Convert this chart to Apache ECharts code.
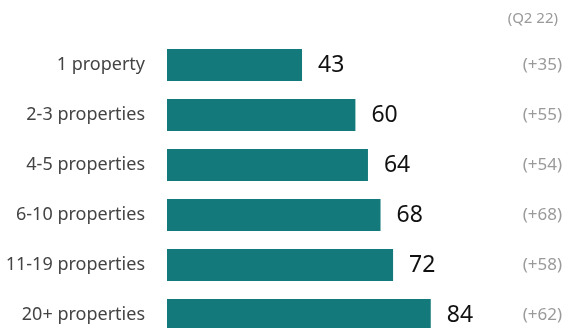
<!DOCTYPE html>
<html>
<head>
<meta charset="utf-8">
<script src="https://cdn.jsdelivr.net/npm/echarts@6/dist/echarts.min.js"></script>
<style>
html,body{margin:0;padding:0;background:#fff;}
#chart{width:570px;height:328px;}
</style>
</head>
<body>
<div id="chart"></div>
<script>
var mychart = echarts.init(document.getElementById('chart'));

// rows from top to bottom
const categories = ['1 property', '2-3 properties', '4-5 properties', '6-10 properties', '11-19 properties', '20+ properties'];
const values = [43, 60, 64, 68, 72, 84];
const changes = ['(+35)', '(+55)', '(+54)', '(+68)', '(+58)', '(+62)'];
const periodLabel = '(Q2 22)';

const font = 'Noto Sans';

option = {
    backgroundColor: '#ffffff',
    animation: false,
    title: {
        text: periodLabel,
        right: 7,
        top: 6,
        textStyle: {
            fontFamily: font,
            fontSize: 15,
            fontWeight: 'normal',
            color: '#9a9a9a'
        }
    },
    grid: {
        left: 167,
        right: 89,
        top: 40,
        height: 300,
        outerBoundsMode: 'none'
    },
    xAxis: {
        type: 'value',
        min: 0,
        max: 100,
        show: false
    },
    yAxis: [
        {
            type: 'category',
            inverse: true,
            data: categories,
            axisLine: { show: false },
            axisTick: { show: false },
            axisLabel: {
                margin: 22,
                fontFamily: font,
                fontSize: 18,
                color: '#444'
            }
        },
        {
            type: 'category',
            inverse: true,
            position: 'right',
            data: changes,
            axisLine: { show: false },
            axisTick: { show: false },
            axisLabel: {
                margin: 81,
                align: 'right',
                fontFamily: font,
                fontSize: 17,
                color: '#9a9a9a'
            }
        }
    ],
    series: [
        {
            type: 'bar',
            data: values,
            barWidth: 32,
            itemStyle: { color: '#13797a' },
            label: {
                show: true,
                position: 'right',
                distance: 16,
                fontFamily: font,
                fontSize: 23,
                color: '#111'
            }
        }
    ]
};
mychart.setOption(option, true);
</script>
</body>
</html>
